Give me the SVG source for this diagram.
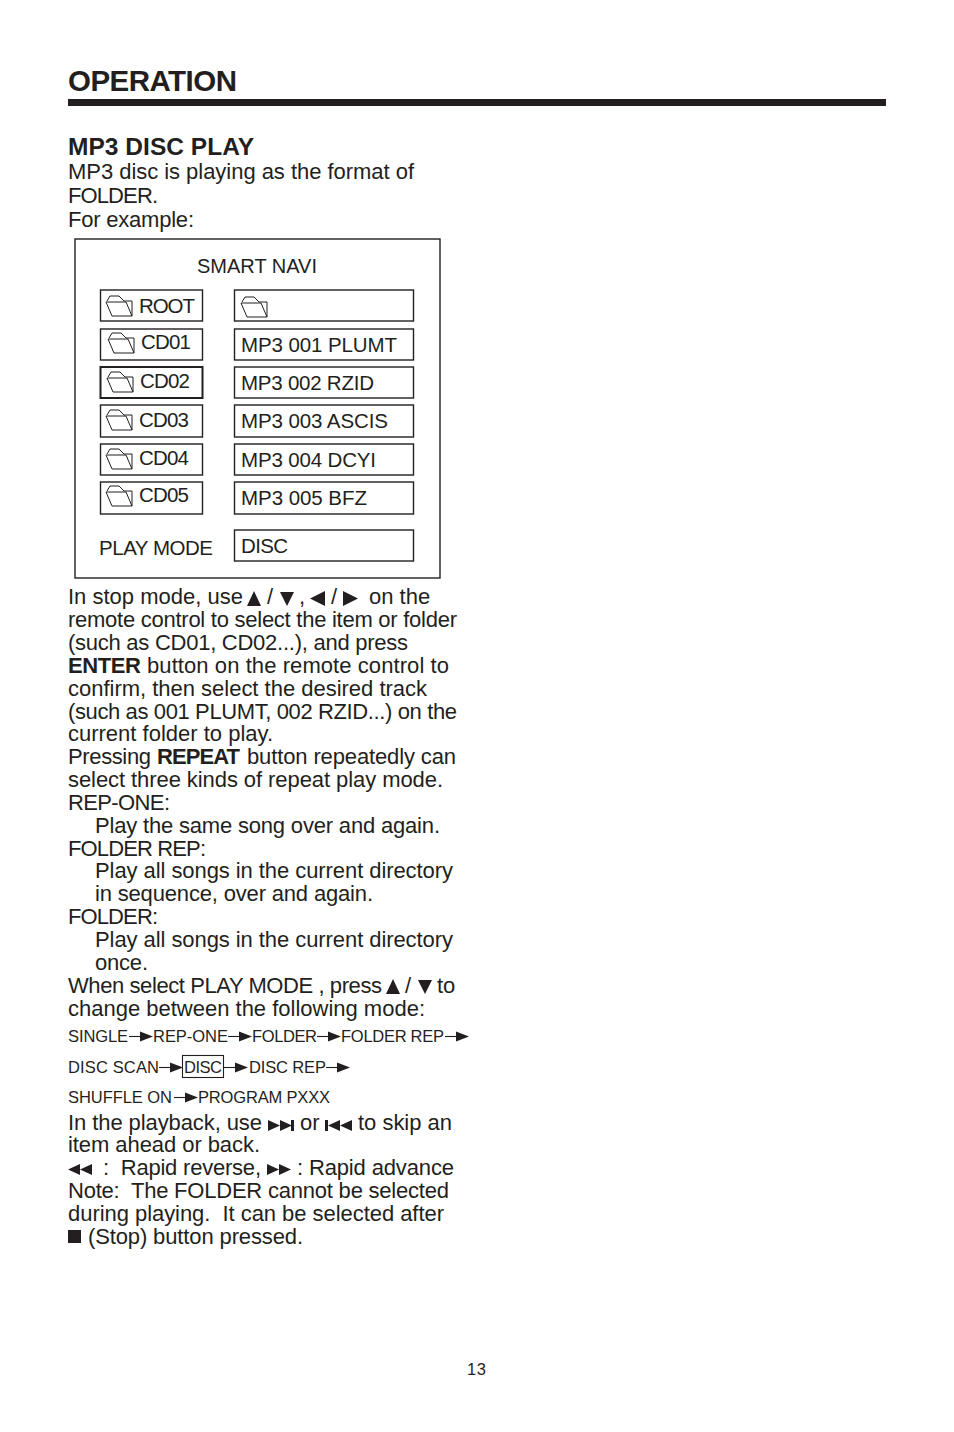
<svg xmlns="http://www.w3.org/2000/svg" xmlns:xlink="http://www.w3.org/1999/xlink" width="954" height="1432" viewBox="0 0 954 1432">
<style>
text{font-family:"Liberation Sans",Arial,sans-serif;fill:#231f20;font-size:22px;white-space:pre}
.b{font-weight:bold}
.s{font-size:16.5px}
.m{font-size:20.5px}
.box{fill:#fff;stroke:#231f20;stroke-width:1.4}
.thick{stroke-width:2}
.f{fill:none;stroke:#231f20;stroke-width:1}
.k{fill:#231f20;stroke:none}
.l{stroke:#231f20;stroke-width:1.1;fill:none}
</style>
<defs>
<g id="folder"><path class="f" d="M1 6L4 1H13L18 6H26V21H6L0 7H20L26 21"/></g>
<path id="ra" class="k" d="M0 -0.500L13 4.500L0 9.500Z"/>
<g id="flow"><path class="l" d="M-11 4.500H2"/><use xlink:href="#ra"/></g>
<g id="ff"><path class="k" d="M0 0L12 5.500L0 11ZM12 0L24 5.500L12 11Z"/></g>
<g id="rw"><path class="k" d="M12 0L0 5.500L12 11ZM24 0L12 5.500L24 11Z"/></g>
</defs>
<rect width="954" height="1432" fill="#fff"/>
<g id="header">
<text class="b" x="68" y="91" textLength="169" style="font-size:29.5px">OPERATION</text>
<rect x="68" y="99" width="818" height="7" fill="#231f20"/>
<text class="b" x="68" y="155" textLength="186" style="font-size:24.5px">MP3 DISC PLAY</text>
</g>
<g id="intro">
<text x="68" y="179" textLength="346">MP3 disc is playing as the format of</text>
<text x="68" y="203" textLength="90">FOLDER.</text>
<text x="68" y="227" textLength="126">For example:</text>
</g>
<g id="panel">
<rect class="box" x="75" y="239" width="365" height="339"/>
<text x="197" y="273" textLength="120" style="font-size:20px">SMART NAVI</text>
<text x="99" y="555" textLength="114" class="m">PLAY MODE</text>
</g>
<g id="node-root"><rect class="box" x="100.500" y="290" width="102" height="31"/><use xlink:href="#folder" x="106" y="295"/><text class="m" x="139" y="313" textLength="56">ROOT</text></g>
<g id="node-cd01"><rect class="box" x="100.500" y="329" width="102" height="31"/><use xlink:href="#folder" x="108" y="332"/><text class="m" x="141" y="349" textLength="50">CD01</text></g>
<g id="node-cd02"><rect class="box thick" x="100.500" y="367" width="102" height="31"/><use xlink:href="#folder" x="107" y="371"/><text class="m" x="140" y="388" textLength="50">CD02</text></g>
<g id="node-cd03"><rect class="box" x="100.500" y="405" width="102" height="32"/><use xlink:href="#folder" x="106" y="409"/><text class="m" x="139" y="427" textLength="50">CD03</text></g>
<g id="node-cd04"><rect class="box" x="100.500" y="444" width="102" height="31"/><use xlink:href="#folder" x="106" y="448"/><text class="m" x="139" y="465" textLength="50">CD04</text></g>
<g id="node-cd05"><rect class="box" x="100.500" y="482" width="102" height="32"/><use xlink:href="#folder" x="106" y="485"/><text class="m" x="139" y="502" textLength="50">CD05</text></g>
<g id="node-top"><rect class="box" x="234.500" y="290" width="179" height="31"/><use xlink:href="#folder" x="241" y="296"/></g>
<g id="node-t1"><rect class="box" x="234.500" y="329" width="179" height="31"/><text class="m" x="241" y="352" textLength="156">MP3 001 PLUMT</text></g>
<g id="node-t2"><rect class="box" x="234.500" y="367" width="179" height="31"/><text class="m" x="241" y="390" textLength="133">MP3 002 RZID</text></g>
<g id="node-t3"><rect class="box" x="234.500" y="405" width="179" height="32"/><text class="m" x="241" y="428" textLength="147">MP3 003 ASCIS</text></g>
<g id="node-t4"><rect class="box" x="234.500" y="444" width="179" height="31"/><text class="m" x="241" y="467" textLength="135">MP3 004 DCYI</text></g>
<g id="node-t5"><rect class="box" x="234.500" y="482" width="179" height="32"/><text class="m" x="241" y="505" textLength="126">MP3 005 BFZ</text></g>
<g id="node-mode"><rect class="box" x="234.500" y="530" width="179" height="31"/><text class="m" x="241" y="553" textLength="47">DISC</text></g>
<g id="body">
<text x="68" y="604" textLength="175">In stop mode, use</text>
<path class="k" d="M247 606L254 591L261 606ZM280 592H294L287 606ZM325 591V606L310 598.500ZM343 591V606L358 598.500Z"/>
<text x="267" y="604">/</text><text x="299" y="604">,</text><text x="331" y="604">/</text><text x="369" y="604">on the</text>
<text x="68" y="627" textLength="389">remote control to select the item or folder</text>
<text x="68" y="650" textLength="340">(such as CD01, CD02...), and press</text>
<text class="b" x="68" y="673" textLength="73">ENTER</text>
<text x="147" y="673" textLength="302">button on the remote control to</text>
<text x="68" y="696" textLength="359">confirm, then select the desired track</text>
<text x="68" y="719" textLength="389">(such as 001 PLUMT, 002 RZID...) on the</text>
<text x="68" y="741" textLength="205">current folder to play.</text>
<text x="68" y="764" textLength="83">Pressing</text>
<text class="b" x="157" y="764" textLength="83">REPEAT</text>
<text x="247" y="764" textLength="209">button repeatedly can</text>
<text x="68" y="787" textLength="375">select three kinds of repeat play mode.</text>
<text x="68" y="810" textLength="102">REP-ONE:</text>
<text x="95" y="833" textLength="345">Play the same song over and again.</text>
<text x="68" y="856" textLength="138">FOLDER REP:</text>
<text x="95" y="878" textLength="358">Play all songs in the current directory</text>
<text x="95" y="901" textLength="278">in sequence, over and again.</text>
<text x="68" y="924" textLength="90">FOLDER:</text>
<text x="95" y="947" textLength="358">Play all songs in the current directory</text>
<text x="95" y="970" textLength="53">once.</text>
<text x="68" y="993" textLength="314">When select PLAY MODE , press</text>
<path class="k" d="M386 994L393 979L400 994ZM418 980H432L425 994Z"/>
<text x="405" y="993">/</text><text x="437" y="993">to</text>
<text x="68" y="1016" textLength="357">change between the following mode:</text>
</g>
<g id="connectors">
<use xlink:href="#flow" x="140" y="1032"/>
<use xlink:href="#flow" x="239" y="1032"/>
<use xlink:href="#flow" x="328" y="1032"/>
<use xlink:href="#flow" x="456" y="1032"/>
<use xlink:href="#flow" x="170" y="1063"/>
<use xlink:href="#flow" x="235" y="1063"/>
<use xlink:href="#flow" x="337" y="1063"/>
<use xlink:href="#flow" x="185" y="1093"/>
</g>
<g id="flow-labels">
<text class="s" x="68" y="1042" textLength="60">SINGLE</text>
<text class="s" x="153" y="1042" textLength="75">REP-ONE</text>
<text class="s" x="252" y="1042" textLength="65">FOLDER</text>
<text class="s" x="341" y="1042" textLength="103">FOLDER REP</text>
<text class="s" x="68" y="1073" textLength="91">DISC SCAN</text>
<rect x="182.500" y="1055.500" width="41" height="22" fill="#fff" stroke="#231f20" stroke-width="1.100"/>
<text class="s" x="184" y="1073" textLength="38">DISC</text>
<text class="s" x="249" y="1073" textLength="77">DISC REP</text>
<text class="s" x="68" y="1103" textLength="104">SHUFFLE ON</text>
<text class="s" x="198" y="1103" textLength="132">PROGRAM PXXX</text>
</g>
<g id="footer-text">
<text x="68" y="1130" textLength="194">In the playback, use</text>
<use xlink:href="#ff" x="268" y="1120"/><rect x="291" y="1120" width="3" height="11" fill="#231f20"/>
<text x="300" y="1130">or</text>
<rect x="325" y="1120" width="3" height="11" fill="#231f20"/><use xlink:href="#rw" x="328" y="1120"/>
<text x="358" y="1130" textLength="94">to skip an</text>
<text x="68" y="1152" textLength="192">item ahead or back.</text>
<use xlink:href="#rw" x="68" y="1164"/>
<text x="103" y="1175" textLength="158">:  Rapid reverse,</text>
<use xlink:href="#ff" x="267" y="1164"/>
<text x="297" y="1175" textLength="157">: Rapid advance</text>
<text x="68" y="1198" textLength="381">Note:  The FOLDER cannot be selected</text>
<text x="68" y="1221" textLength="376">during playing.  It can be selected after</text>
<rect x="68" y="1230" width="13" height="13" fill="#231f20"/>
<text x="88" y="1244" textLength="215">(Stop) button pressed.</text>
</g>
<text id="page" x="467" y="1375" style="font-size:16.5px" textLength="19">13</text>
</svg>
